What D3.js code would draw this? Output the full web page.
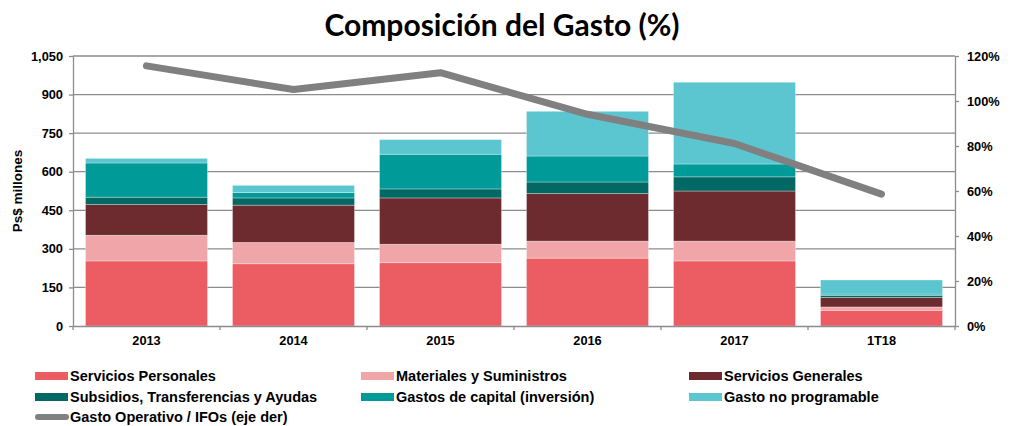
<!DOCTYPE html>
<html>
<head>
<meta charset="utf-8">
<script src="https://cdn.jsdelivr.net/npm/d3@7/dist/d3.min.js"></script>
<style>
  body { margin: 0; background: #fff; }
  text { font-family: "Liberation Sans", Arial, sans-serif; }
</style>
</head>
<body>
<figure id="chart" style="margin:0"></figure>
<script>
const categories = ['2013', '2014', '2015', '2016', '2017', '1T18'];

const serviciosPersonales = [253, 242, 246, 264, 253, 61];
const materiales = [100, 83, 72, 66, 77, 13];
const serviciosGenerales = [119, 145, 180, 185, 195, 37];
const subsidios = [29, 28, 35, 45, 55, 8];
const gastosCapital = [133, 21, 135, 101, 50, 5];
const gastoNoProgramable = [18, 28, 57, 174, 318, 55];

const gastoOperativo = [1.156, 1.051, 1.126, 0.941, 0.811, 0.586];

const leftTicks = [0, 150, 300, 450, 600, 750, 900, 1050];
const rightTicks = [0, 0.2, 0.4, 0.6, 0.8, 1.0, 1.2];

const series = [
  { name: 'Servicios Personales', values: serviciosPersonales, color: '#ec5d63' },
  { name: 'Materiales y Suministros', values: materiales, color: '#f0a6a8' },
  { name: 'Servicios Generales', values: serviciosGenerales, color: '#6e2b2f' },
  { name: 'Subsidios, Transferencias y Ayudas', values: subsidios, color: '#016864' },
  { name: 'Gastos de capital (inversión)', values: gastosCapital, color: '#009a98' },
  { name: 'Gasto no programable', values: gastoNoProgramable, color: '#5bc6cf' }
];
const lineName = 'Gasto Operativo / IFOs (eje der)';
const lineColor = '#808080';

const width = 1014;
const height = 426;
const plot = { left: 73, right: 955, top: 56, bottom: 326 };

const svg = d3.select('figure#chart')
  .append('svg')
  .attr('width', width)
  .attr('height', height);

// title
svg.append('text')
  .attr('x', 502)
  .attr('y', 36)
  .attr('text-anchor', 'middle')
  .style('font-family', 'Lato, "Open Sans", sans-serif')
  .style('font-weight', 'bold')
  .style('font-size', '30px')
  .text('Composición del Gasto (%)');

const x = d3.scaleBand()
  .domain(categories)
  .range([plot.left, plot.right])
  .paddingInner(0.17)
  .paddingOuter(0.085);

const y = d3.scaleLinear()
  .domain([0, 1050])
  .range([plot.bottom, plot.top]);

const y2 = d3.scaleLinear()
  .domain([0, 1.2])
  .range([plot.bottom, plot.top]);

// gridlines
svg.append('g')
  .selectAll('line')
  .data(leftTicks.slice(1))
  .enter()
  .append('line')
  .attr('x1', plot.left)
  .attr('x2', plot.right)
  .attr('y1', d => y(d))
  .attr('y2', d => y(d))
  .attr('stroke', '#8c8c8c')
  .attr('stroke-width', 1.3);

// stacked bars
const rows = categories.map((c, i) => {
  const r = { cat: c };
  series.forEach(s => { r[s.name] = s.values[i]; });
  return r;
});
const stack = d3.stack().keys(series.map(s => s.name));
const layers = stack(rows);

svg.append('g')
  .selectAll('g')
  .data(layers)
  .enter()
  .append('g')
  .attr('fill', (d, i) => series[i].color)
  .selectAll('rect')
  .data(d => d)
  .enter()
  .append('rect')
  .attr('x', d => x(d.data.cat))
  .attr('width', x.bandwidth())
  .attr('y', d => y(d[1]))
  .attr('height', d => y(d[0]) - y(d[1]))
  .attr('stroke', 'rgba(255,255,255,0.45)')
  .attr('stroke-width', 0.7);

// axes
const axisStyle = g => {
  g.select('.domain').attr('stroke', '#8c8c8c').attr('stroke-width', 1.3);
  g.selectAll('.tick line').attr('stroke', '#8c8c8c').attr('stroke-width', 1.3);
  g.selectAll('.tick text')
    .style('font-family', '"Liberation Sans", Arial, sans-serif')
    .style('font-weight', 'bold')
    .style('font-size', '12.8px')
    .attr('fill', '#000');
};

svg.append('g')
  .attr('transform', 'translate(' + plot.left + ',0)')
  .call(d3.axisLeft(y).tickValues(leftTicks).tickFormat(d3.format(',')).tickSize(4).tickPadding(6).tickSizeOuter(0))
  .call(axisStyle);

svg.append('g')
  .attr('transform', 'translate(' + plot.right + ',0)')
  .call(d3.axisRight(y2).tickValues(rightTicks).tickFormat(d3.format('.0%')).tickSize(4).tickPadding(8).tickSizeOuter(0))
  .call(axisStyle);

const xAxis = svg.append('g')
  .attr('transform', 'translate(0,' + plot.bottom + ')')
  .call(d3.axisBottom(x).tickSize(0).tickPadding(10))
  .call(axisStyle);

// category boundary ticks on the x axis
const step = x.step();
xAxis.selectAll('.boundary')
  .data(d3.range(categories.length + 1))
  .enter()
  .append('line')
  .attr('x1', i => plot.left + i * step)
  .attr('x2', i => plot.left + i * step)
  .attr('y1', 0)
  .attr('y2', 4)
  .attr('stroke', '#8c8c8c')
  .attr('stroke-width', 1.3);

// y axis title
svg.append('text')
  .attr('transform', 'translate(22,' + ((plot.top + plot.bottom) / 2) + ') rotate(-90)')
  .attr('text-anchor', 'middle')
  .style('font-weight', 'bold')
  .style('font-size', '13.5px')
  .text('Ps$ millones');

// line on right axis
const line = d3.line()
  .x((d, i) => x(categories[i]) + x.bandwidth() / 2)
  .y(d => y2(d));

svg.append('path')
  .datum(gastoOperativo)
  .attr('d', line)
  .attr('fill', 'none')
  .attr('stroke', lineColor)
  .attr('stroke-width', 7)
  .attr('stroke-linecap', 'round')
  .attr('stroke-linejoin', 'round');

// legend
const legendCols = [35, 361, 689];
const legendRows = [376, 397, 417];
const legendItems = series.map(s => ({ name: s.name, color: s.color, type: 'rect' }))
  .concat([{ name: lineName, color: lineColor, type: 'line' }]);

const legend = svg.append('g')
  .selectAll('g')
  .data(legendItems)
  .enter()
  .append('g')
  .attr('transform', (d, i) => 'translate(' + legendCols[i % 3] + ',' + legendRows[Math.floor(i / 3)] + ')');

legend.filter(d => d.type === 'rect')
  .append('rect')
  .attr('x', 0)
  .attr('y', -4)
  .attr('width', 33)
  .attr('height', 8)
  .attr('fill', d => d.color);

legend.filter(d => d.type === 'line')
  .append('line')
  .attr('x1', 3)
  .attr('x2', 31)
  .attr('y1', 0)
  .attr('y2', 0)
  .attr('stroke', d => d.color)
  .attr('stroke-width', 6)
  .attr('stroke-linecap', 'round');

legend.append('text')
  .attr('x', 35)
  .attr('y', 5)
  .style('font-weight', 'bold')
  .style('font-size', '14.5px')
  .text(d => d.name);
</script>
</body>
</html>
